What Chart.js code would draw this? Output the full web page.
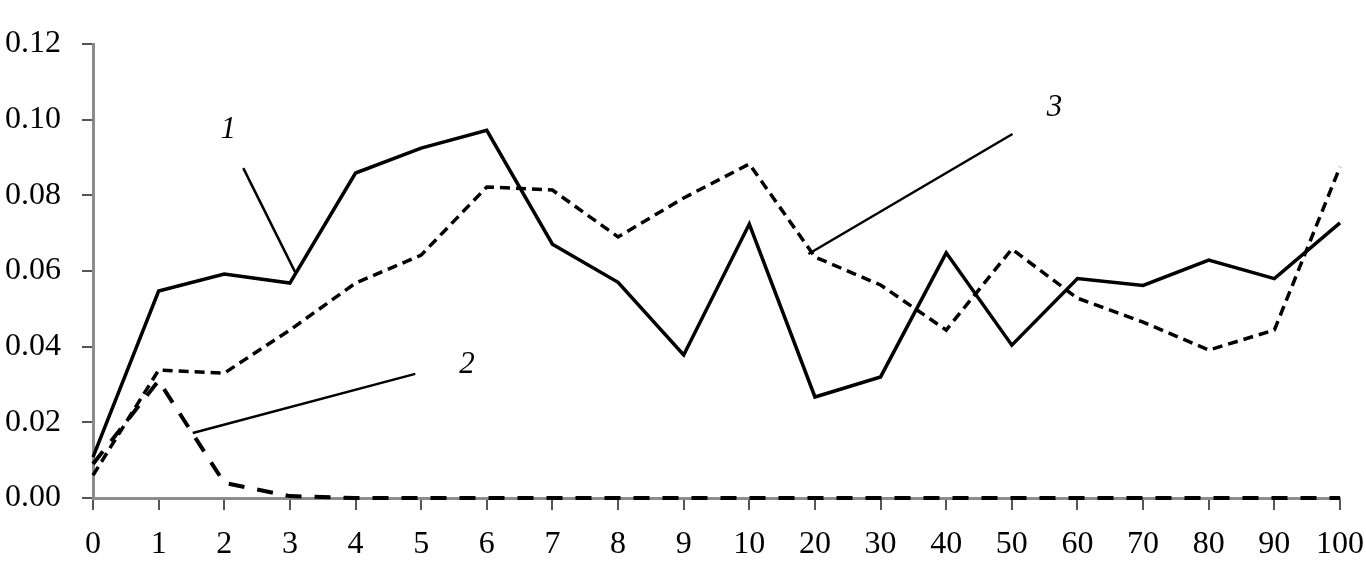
<!DOCTYPE html>
<html>
<head>
<meta charset="utf-8">
<script src="https://cdn.jsdelivr.net/npm/chart.js@4/dist/chart.umd.min.js"></script>
<style>
html,body{margin:0;padding:0;background:#fff;}
#wrap{width:1366px;height:582px;position:relative;}
</style>
</head>
<body>
<div id="wrap"><canvas id="c" width="1366" height="582"></canvas></div>
<script>
const categories = ['0','1','2','3','4','5','6','7','8','9','10','20','30','40','50','60','70','80','90','100'];
const series1 = [0.0108,0.0547,0.0592,0.0568,0.0859,0.0925,0.0972,0.0671,0.0570,0.0378,0.0724,0.0267,0.0320,0.0648,0.0404,0.0580,0.0562,0.0629,0.0580,0.0727];
const series2 = [0.0090,0.0310,0.0040,0.0005,0,0,0,0,0,0,0,0,0,0,0,0,0,0,0,0];
const series3 = [0.0060,0.0338,0.0330,0.0444,0.0568,0.0642,0.0822,0.0814,0.0690,0.0793,0.0883,0.0637,0.0563,0.0444,0.0658,0.0528,0.0465,0.0391,0.0444,0.0875];
const yTicks = [0, 0.02, 0.04, 0.06, 0.08, 0.10, 0.12];
// annotation labels and leader lines in data coordinates (category index, value)
const noteLabels = [
  {text:'1', x:2.06, y:0.0973},
  {text:'2', x:5.70, y:0.0352},
  {text:'3', x:14.65, y:0.1031}
];
const noteLines = [
  {x1:2.29, y1:0.0872, x2:3.08, y2:0.0597},
  {x1:1.52, y1:0.0172, x2:4.91, y2:0.0328},
  {x1:10.9, y1:0.0645, x2:14.01, y2:0.0962}
];

const notesPlugin = {
  id:'notes',
  afterDatasetsDraw(chart){
    const ctx = chart.ctx, xs = chart.scales.x, ys = chart.scales.y;
    ctx.save();
    ctx.strokeStyle = '#000';
    ctx.lineWidth = 2.5;
    noteLines.forEach(l=>{
      ctx.beginPath();
      ctx.moveTo(xs.getPixelForValue(l.x1), ys.getPixelForValue(l.y1));
      ctx.lineTo(xs.getPixelForValue(l.x2), ys.getPixelForValue(l.y2));
      ctx.stroke();
    });
    ctx.fillStyle = '#000';
    ctx.font = 'italic 31px "Liberation Serif", "Times New Roman", serif';
    ctx.textAlign = 'center';
    ctx.textBaseline = 'middle';
    noteLabels.forEach(n=>{
      ctx.fillText(n.text, xs.getPixelForValue(n.x), ys.getPixelForValue(n.y));
    });
    ctx.restore();
  }
};

const tickFont = {family:'"Liberation Serif", "Times New Roman", serif', size:32};

new Chart(document.getElementById('c'), {
  type:'line',
  data:{
    labels:categories,
    datasets:[
      {label:'1', data:series1, borderColor:'#000', borderWidth:3.5, pointRadius:0, tension:0, fill:false},
      {label:'2', data:series2, borderColor:'#000', borderWidth:4, borderDash:[16,13], pointRadius:0, tension:0, fill:false, clip:false},
      {label:'3', data:series3, borderColor:'#000', borderWidth:3.5, borderDash:[10,6], pointRadius:0, tension:0, fill:false}
    ]
  },
  options:{
    responsive:false,
    animation:false,
    devicePixelRatio:1,
    layout:{padding:{top:44, right:26, left:0, bottom:0}},
    plugins:{legend:{display:false}, tooltip:{enabled:false}},
    scales:{
      x:{
        type:'category',
        offset:false,
        grid:{display:true, drawOnChartArea:false, drawTicks:true, tickLength:12, color:'#555', lineWidth:2, offset:false},
        border:{display:true, color:'#8c8c8c', width:3},
        ticks:{color:'#000', font:tickFont, padding:15, maxRotation:0, autoSkip:false},
        afterFit(s){ s.height = 84; s.paddingLeft = 0; s.paddingRight = 0; }
      },
      y:{
        min:0, max:0.12,
        afterBuildTicks(s){ s.ticks = yTicks.map(v=>({value:v})); },
        grid:{display:true, drawOnChartArea:false, drawTicks:true, tickLength:11, color:'#555', lineWidth:2},
        border:{display:true, color:'#8c8c8c', width:3},
        ticks:{color:'#000', font:tickFont, padding:21, callback:(v)=>Number(v).toFixed(2)},
        afterFit(s){ s.width = 93; s.paddingTop = 0; s.paddingBottom = 0; }
      }
    }
  },
  plugins:[notesPlugin]
});
</script>
</body>
</html>
